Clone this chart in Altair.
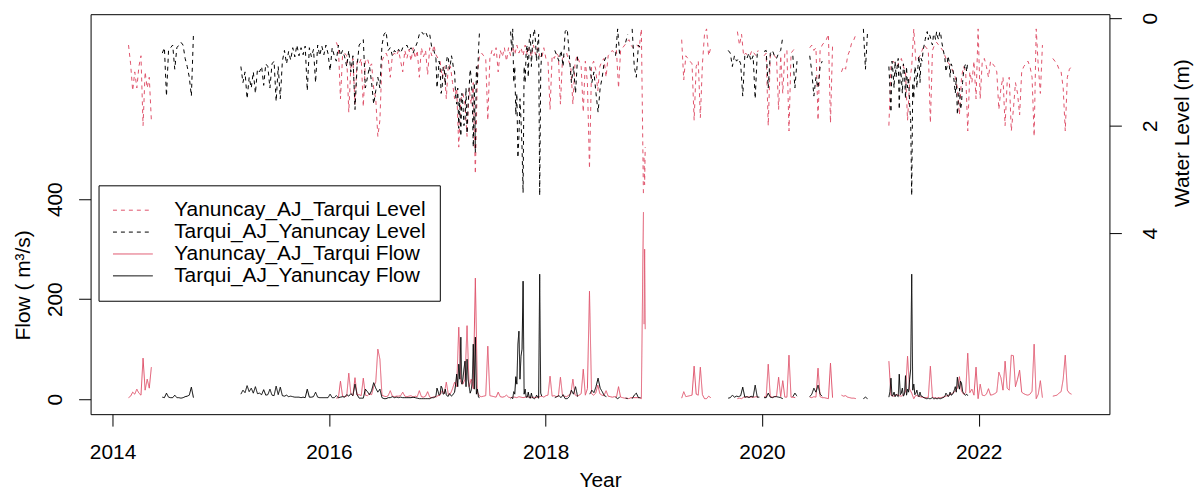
import altair as alt
import pandas as pd

RED = "#DF536B"
FONT = "Liberation Sans"
SERIES = ["Yanuncay_AJ_Tarqui Level", "Tarqui_AJ_Yanuncay Level",
          "Yanuncay_AJ_Tarqui Flow", "Tarqui_AJ_Yanuncay Flow"]

YEAR_TICKS = [2014, 2016, 2018, 2020, 2022]
FLOW_TICKS = [0, 200, 400]
LEVEL_TICKS = [0, 2, 4]

# ---- Yanuncay_AJ_Tarqui : segments (start date, step in days) ----
YAN_STARTS = ["2014-02-24", "2016-01-26", "2018-11-29", "2019-04-05", "2019-10-10",
              "2020-01-08", "2020-06-10", "2020-09-25", "2021-03-04", "2022-09-08"]
YAN_STEPS = [7, 7, 2, 7, 7, 7, 7, 7, 7, 7]
YAN_LEVEL = [
    [0.5, 0.85, 1.35, 1.0, 1.3, 0.9, 0.7, 2.0, 1.0, 1.3, 1.1, 1.9],
    [0.45, 0.55, 1.5, 0.7, 0.65, 0.7, 1.75, 0.9, 0.75, 1.6,
     0.8, 0.85, 0.75, 1.65, 0.8, 0.75, 0.9, 0.85, 1.3, 1.5,
     2.2, 1.9, 0.8, 0.7, 0.65, 0.75, 1.1, 0.7, 0.65, 0.7,
     0.6, 0.8, 1.0, 0.6, 0.75, 0.58, 0.8, 0.55, 0.75, 0.6,
     1.1, 0.55, 0.72, 0.6, 1.05, 0.55, 0.7, 0.5, 0.68, 0.75,
     0.8, 1.1, 0.9, 1.5, 0.85, 0.9, 1.2, 1.5, 1.3, 2.4,
     1.5, 1.4, 1.6, 2.2, 1.3, 1.6, 1.2, 2.9, 1.0, 0.7,
     0.65, 0.7, 0.75, 1.9, 0.75, 0.6, 0.7, 0.55, 1.0, 0.6,
     0.72, 0.55, 0.8, 0.55, 0.7, 0.52, 0.68, 0.5, 0.65, 0.55,
     0.7, 0.5, 0.68, 0.55, 0.72, 0.5, 0.68, 0.55, 0.7, 0.75,
     0.55, 0.75, 0.8, 1.7, 0.7, 0.75, 0.65, 0.7, 1.6, 0.75,
     0.7, 0.65, 0.8, 0.9, 1.6, 0.85, 0.7, 0.8, 0.9, 1.75,
     0.8, 1.2, 2.8, 0.9, 0.8, 0.95, 1.35, 0.9, 0.8, 0.75,
     1.1, 0.7, 0.65, 0.6, 0.65, 0.6, 1.3, 0.6, 0.55, 0.5,
     0.45, 0.4, 0.5, 0.55, 0.5, 0.5, 0.55, 0.2, 3.3],
    [2.6, 3.1, 2.4],
    [0.4, 1.15, 0.7, 0.75, 0.8, 0.85, 1.9, 0.9, 0.8, 1.85, 0.85, 0.3, 0.2, 0.7, 0.55],
    [0.25, 0.5, 0.3, 0.7, 0.65, 0.7, 0.7, 0.6, 0.65, 0.7, 0.6],
    [0.7, 0.65, 2.0, 0.7, 0.65, 0.7, 0.75, 1.7, 0.7, 1.4, 0.65, 0.6, 2.1, 0.65, 0.6, 0.55],
    [0.55, 0.5, 0.6, 0.55, 1.9, 0.6, 0.5, 0.45, 0.4, 0.3, 1.95, 0.5],
    [1.0, 0.9, 0.95, 0.7, 0.6, 0.45, 0.4, 0.3],
    [2.0, 0.9, 0.8, 0.85, 0.9, 0.8, 0.75, 0.9, 1.0, 1.9,
     1.2, 0.9, 0.2, 0.8, 0.75, 0.7, 0.6, 0.5, 0.55, 0.6,
     1.95, 0.6, 0.5, 0.45, 0.5, 0.55, 0.6, 0.7, 0.8, 0.85,
     0.9, 1.0, 1.1, 1.3, 1.8, 1.1, 0.9, 1.0, 2.1, 1.0,
     1.2, 0.8, 1.5, 0.2, 1.5, 0.8, 0.75, 0.9, 1.1, 0.8,
     0.85, 0.9, 1.0, 1.7, 1.3, 1.1, 2.0, 1.2, 1.1, 2.1,
     1.7, 1.2, 1.4, 1.8, 1.0, 0.9, 0.85, 0.8, 0.9, 1.1,
     2.2, 0.2, 0.9, 1.4, 0.5],
    [0.75, 0.8, 0.85, 0.95, 1.0, 1.3, 2.1, 1.1, 0.95, 0.9],
]
YAN_FLOW = [
    [3, 6, 14, 10, 20, 12, 8, 82, 18, 40, 22, 64],
    [2, 3, 36, 6, 5, 6, 52, 11, 7, 43,
     8, 9, 7, 42, 8, 7, 11, 9, 25, 34,
     100, 80, 8, 6, 5, 7, 17, 6, 5, 6,
     6, 7, 14, 6, 5, 6, 7, 4, 6, 5,
     17, 5, 4, 6, 15, 4, 3, 5, 4, 7,
     8, 17, 11, 34, 9, 11, 21, 34, 25, 144,
     34, 30, 40, 147, 25, 40, 21, 242, 14, 6,
     5, 6, 7, 106, 7, 6, 5, 4, 14, 5,
     4, 5, 8, 4, 3, 4, 4, 3, 5, 4,
     3, 4, 5, 4, 3, 4, 3, 4, 5, 6,
     4, 7, 8, 46, 6, 7, 5, 6, 44, 7,
     6, 5, 8, 11, 40, 9, 6, 8, 11, 60,
     8, 21, 216, 11, 8, 12, 28, 11, 8, 7,
     17, 6, 5, 4, 5, 4, 25, 4, 3, 2,
     2, 1, 3, 3, 3, 3, 3, 1, 374],
    [150, 300, 140],
    [2, 15, 5, 6, 7, 8, 66, 10, 8, 64, 9, 1, 1, 6, 3],
    [1, 2, 1, 4, 4, 5, 4, 4, 4, 5, 4],
    [5, 4, 70, 5, 4, 5, 6, 44, 5, 37, 4, 4, 88, 4, 4, 3],
    [4, 3, 5, 4, 62, 5, 3, 3, 2, 1, 72, 3],
    [8, 6, 7, 4, 3, 2, 2, 1],
    [76, 8, 6, 7, 9, 7, 6, 10, 14, 86,
     20, 12, 1, 8, 6, 5, 4, 3, 3, 4,
     66, 4, 3, 2, 3, 3, 4, 5, 7, 8,
     10, 13, 16, 22, 45, 16, 10, 13, 92, 13,
     20, 8, 64, 1, 30, 8, 7, 10, 21, 8,
     9, 11, 14, 54, 43, 18, 76, 22, 18, 88,
     87, 25, 40, 58, 14, 11, 9, 8, 10, 16,
     110, 1, 10, 37, 3],
    [6, 7, 8, 12, 15, 40, 88, 18, 12, 10],
]

# ---- Tarqui_AJ_Yanuncay : segments ----
TAR_STARTS = ["2014-06-18", "2015-03-10", "2016-12-27", "2017-09-05", "2018-02-01",
              "2018-05-30", "2018-08-25", "2018-09-28", "2018-10-20", "2019-09-09",
              "2020-01-08", "2020-04-14", "2020-06-10", "2020-12-08", "2021-03-04"]
TAR_STEPS = [7, 7, 3.5, 3.5, 7, 7, 7, 7, 7, 7, 7, 7, 7, 7, 3.5]
TAR_LEVEL = [
    [0.65, 0.55, 1.45, 0.6, 0.55, 0.5, 0.95, 0.55, 0.5, 0.45, 0.5, 0.75, 0.9, 1.1, 1.45, 0.3],
    [0.9, 1.2, 1.0, 1.5, 1.1, 1.3, 1.0, 1.4, 0.95, 1.0,
     0.9, 1.25, 0.85, 0.9, 1.3, 0.85, 0.8, 1.55, 0.9, 1.5,
     0.8, 0.6, 0.85, 0.62, 0.78, 0.55, 0.72, 0.5, 0.7, 0.55,
     0.68, 0.52, 1.35, 0.55, 0.72, 0.58, 1.2, 0.5, 0.7, 0.52,
     0.68, 0.5, 0.66, 0.98, 0.55, 0.7, 0.8, 0.5, 0.7, 0.6,
     0.72, 0.9, 0.6, 1.0, 0.7, 1.7, 0.9, 0.5, 0.45, 0.4,
     1.3, 1.1, 0.9, 1.2, 1.6, 1.35, 1.1, 1.3, 0.5, 0.3,
     0.25, 0.6, 0.55, 0.7, 0.6, 0.65, 0.58, 0.65, 0.55, 0.55,
     0.5, 0.6, 0.55, 0.65, 0.55, 0.45, 0.3, 0.25, 0.3, 0.25,
     0.35, 0.3, 0.55, 0.6, 0.75],
    [0.75, 1.3, 1.1, 0.8, 0.9, 1.4, 1.3, 0.9, 0.95, 1.25,
     0.85, 0.7, 0.75, 0.95, 0.85, 0.7, 0.8, 0.95, 1.0, 1.45,
     1.6, 1.3, 2.05, 1.5, 2.2, 1.4, 1.6, 2.0, 1.9, 1.3,
     2.15, 1.6, 1.3, 0.95, 1.1, 1.5, 2.4, 1.2, 2.5, 0.9,
     1.2, 0.6, 0.25],
    [0.25, 0.6, 0.2, 1.2, 0.9, 1.8, 1.4, 2.6, 2.2, 1.5,
     1.9, 2.4, 3.25, 0.9, 1.2, 0.6, 0.5, 1.1, 0.4, 0.3,
     0.9, 0.5, 0.3, 0.2, 0.45, 0.8, 0.5, 0.3, 3.3, 1.0, 0.6],
    [0.6, 0.7, 0.8, 0.6, 0.9, 0.25, 0.2, 0.7, 1.2, 0.9, 1.4, 0.7],
    [0.9, 1.2, 1.0, 1.4, 1.75, 1.3, 1.1, 0.8, 0.7],
    [0.7, 0.2, 0.7],
    [0.45, 0.3],
    [0.2, 0.9, 1.1, 0.5, 0.55],
    [0.6, 0.65, 0.9, 0.7, 0.8, 0.75, 0.85, 1.45, 0.7, 0.75, 0.65, 0.8, 0.7, 1.5, 0.65, 0.7],
    [0.62, 0.6, 1.3, 0.65, 0.6, 0.7, 0.75, 0.65, 0.6, 0.35],
    [0.7, 1.3, 0.8],
    [0.7, 1.0, 1.45, 1.1, 1.3, 0.9, 0.8],
    [0.2, 0.95, 0.25],
    [0.9, 1.3, 1.75, 0.8, 1.0, 1.3, 0.8, 1.1, 0.9, 0.75,
     1.7, 0.9, 1.1, 1.4, 0.85, 1.0, 1.5, 0.9, 1.3, 1.1,
     1.6, 1.9, 3.3, 1.2, 1.5, 0.9, 1.0, 1.3, 0.9, 0.7,
     1.2, 0.75, 0.8, 0.6, 0.5, 0.4, 0.3, 0.25, 0.4, 0.3,
     0.35, 0.45, 0.5, 0.3, 0.3, 0.4, 0.25, 0.35, 0.4, 0.25,
     0.3, 0.45, 0.55, 0.65, 0.75, 1.0, 0.9, 0.7, 0.8, 1.1,
     0.85, 0.9, 1.0, 1.2, 1.4, 1.1, 1.8, 1.5, 1.3, 1.7,
     1.6, 1.2, 1.0, 0.9, 0.85, 1.0, 0.8],
]
TAR_FLOW = [
    [4, 3, 12, 4, 3, 3, 8, 3, 3, 2, 3, 5, 6, 8, 24, 3],
    [10, 18, 13, 27, 15, 22, 12, 25, 11, 12,
     9, 19, 8, 9, 20, 8, 7, 26, 9, 24,
     7, 6, 8, 5, 6, 5, 4, 4, 4, 3,
     4, 3, 20, 4, 4, 5, 14, 4, 3, 3,
     3, 3, 3, 10, 3, 3, 7, 3, 4, 5,
     4, 9, 6, 11, 7, 30, 9, 2, 2, 2,
     20, 15, 9, 17, 33, 22, 14, 20, 3, 1,
     1, 3, 3, 5, 3, 4, 3, 4, 3, 3,
     3, 3, 3, 4, 3, 2, 1, 1, 1, 1,
     1, 1, 3, 3, 6],
    [6, 22, 16, 8, 10, 26, 22, 10, 11, 20,
     9, 6, 6, 11, 9, 6, 8, 11, 14, 30,
     50, 25, 70, 40, 124, 30, 40, 60, 76, 25,
     80, 40, 25, 12, 18, 35, 110, 20, 124, 10,
     20, 4, 3],
    [1, 3, 1, 15, 10, 45, 30, 110, 136, 40,
     86, 100, 236, 10, 20, 4, 4, 14, 3, 2,
     12, 3, 2, 1, 3, 8, 4, 2, 250, 12, 6],
    [3, 5, 7, 3, 9, 1, 1, 5, 18, 10, 25, 5],
    [10, 18, 13, 25, 42, 22, 15, 7, 5],
    [4, 1, 4],
    [2, 1],
    [1, 8, 12, 3, 3],
    [2, 3, 8, 4, 6, 5, 7, 24, 4, 5, 3, 6, 4, 28, 4, 4],
    [3, 3, 12, 4, 3, 5, 5, 4, 3, 1],
    [5, 12, 6],
    [5, 10, 22, 14, 28, 10, 6],
    [1, 4, 1],
    [4, 15, 42, 6, 8, 14, 5, 10, 7, 5,
     50, 9, 12, 22, 6, 10, 47, 8, 20, 14,
     40, 60, 250, 18, 30, 9, 12, 18, 8, 5,
     14, 6, 6, 4, 3, 2, 1, 1, 2, 1,
     1, 2, 3, 1, 1, 2, 1, 1, 2, 1,
     1, 2, 3, 4, 6, 12, 9, 5, 7, 14,
     8, 9, 12, 18, 25, 14, 44, 28, 20, 36,
     32, 16, 12, 9, 8, 10, 7],
]


def build(series, starts, steps, values):
    rows = []
    for si, (s, st, vals) in enumerate(zip(starts, steps, values)):
        t0 = pd.Timestamp(s)
        for i, v in enumerate(vals):
            t = t0 + pd.Timedelta(hours=24 * st * i)
            rows.append({"date": t.strftime("%Y-%m-%dT%H:%M:%S"), "value": v,
                         "series": series, "seg": f"{si}"})
    return pd.DataFrame(rows)


df_yl = build(SERIES[0], YAN_STARTS, YAN_STEPS, YAN_LEVEL)
df_tl = build(SERIES[1], TAR_STARTS, TAR_STEPS, TAR_LEVEL)
df_yf = build(SERIES[2], YAN_STARTS, YAN_STEPS, YAN_FLOW)
df_tf = build(SERIES[3], TAR_STARTS, TAR_STEPS, TAR_FLOW)

legend = alt.Legend(orient="none", legendX=8, legendY=172, direction="vertical",
                    strokeColor="black", fillColor="white", padding=14,
                    labelFont=FONT, labelFontSize=21, labelColor="black",
                    symbolType="stroke", symbolSize=1600, symbolStrokeWidth=1,
                    clipHeight=22, rowPadding=0, labelOffset=21, labelLimit=500,
                    cornerRadius=0)

color = alt.Color("series:N", title=None,
                  scale=alt.Scale(domain=SERIES, range=[RED, "black", RED, "black"]),
                  legend=legend)
dash = alt.StrokeDash("series:N", title=None,
                      scale=alt.Scale(domain=SERIES, range=[[4, 4], [4, 4], [1, 0], [1, 0]]),
                      legend=legend)

x = alt.X("date:T",
          scale=alt.Scale(domain=[alt.DateTime(year=2013, month=10, date=19),
                                  alt.DateTime(year=2023, month=3, date=18)]),
          axis=alt.Axis(values=[alt.DateTime(year=y, month=1, date=1) for y in YEAR_TICKS],
                        format="%Y", title="Year", labelBaseline="top", labelPadding=16,
                        titleY=67, titleBaseline="middle"))

y_flow = alt.Y("value:Q",
               scale=alt.Scale(domain=[-30, 770], nice=False, zero=False),
               axis=alt.Axis(values=FLOW_TICKS, orient="left", title="Flow ( m³/s)",
                             labelAngle=270, labelAlign="center", labelBaseline="alphabetic",
                             labelPadding=17, titleAngle=270, titleX=-67, titleY=272,
                             titleAlign="center", titleBaseline="middle"))

y_level = alt.Y("value:Q",
                scale=alt.Scale(domain=[-0.074, 7.37], nice=False, zero=False, reverse=True),
                axis=alt.Axis(values=LEVEL_TICKS, orient="right", title="Water Level (m)",
                              labelAngle=270, labelAlign="center", labelBaseline="top",
                              labelPadding=18, titleAngle=270, titleX=73, titleY=119,
                              titleAlign="center", titleBaseline="middle"))


def line(df, y):
    return alt.Chart(df).mark_line(strokeWidth=1).encode(
        x=x, y=y, color=color, strokeDash=dash, detail="seg:N")


levels = alt.layer(line(df_yl, y_level), line(df_tl, y_level))
flows = alt.layer(line(df_yf, y_flow), line(df_tf, y_flow))

chart = alt.layer(levels, flows).resolve_scale(y="independent").properties(
    width=1024, height=402,
    autosize=alt.AutoSizeParams(type="none"),
    padding={"left": 83, "top": 5, "right": 86, "bottom": 77},
).configure_view(stroke="black", strokeWidth=1).configure_axis(
    domain=False, grid=False, tickSize=12, tickColor="black", tickWidth=1,
    labelFont=FONT, labelFontSize=21, labelColor="black",
    titleFont=FONT, titleFontSize=21, titleFontWeight="normal", titleColor="black",
)

chart.save("out.html", embed_options={"renderer": "svg", "actions": False})
